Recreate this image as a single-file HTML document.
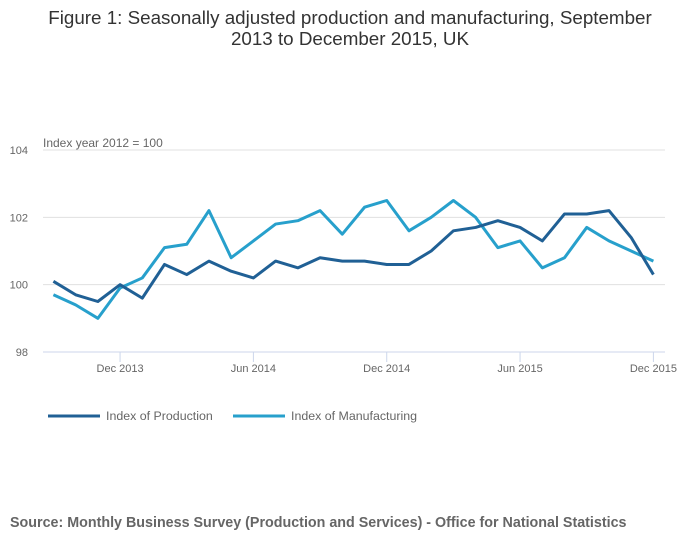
<!DOCTYPE html>
<html><head><meta charset="utf-8"><style>
body{margin:0;background:#fff;font-family:"Liberation Sans",sans-serif;}
</style></head><body>
<svg width="700" height="549" xmlns="http://www.w3.org/2000/svg" font-family="Liberation Sans, sans-serif">
<text x="350" y="24" text-anchor="middle" font-size="18.8" fill="#333">Figure 1: Seasonally adjusted production and manufacturing, September</text>
<text x="350" y="45" text-anchor="middle" font-size="18.8" fill="#333">2013 to December 2015, UK</text>
<text x="43" y="147" font-size="12" fill="#666">Index year 2012 = 100</text>
<g id="grid"></g><g id="series"></g>
<g>
<line x1="48" y1="416" x2="100" y2="416" stroke="#206095" stroke-width="3"/>
<text x="106" y="420" font-size="12.4" fill="#666">Index of Production</text>
<line x1="233" y1="416" x2="285" y2="416" stroke="#27a0cc" stroke-width="3"/>
<text x="291" y="420" font-size="12.4" fill="#666">Index of Manufacturing</text>
</g>
<text x="10" y="527" font-size="14.3" font-weight="bold" fill="#666">Source: Monthly Business Survey (Production and Services) - Office for National Statistics</text>
</svg>
<script>
const production=[100.1,99.7,99.5,100.0,99.6,100.6,100.3,100.7,100.4,100.2,100.7,100.5,100.8,100.7,100.7,100.6,100.6,101.0,101.6,101.7,101.9,101.7,101.3,102.1,102.1,102.2,101.4,100.3];
const manufacturing=[99.7,99.4,99.0,99.9,100.2,101.1,101.2,102.2,100.8,101.3,101.8,101.9,102.2,101.5,102.3,102.5,101.6,102.0,102.5,102.0,101.1,101.3,100.5,100.8,101.7,101.3,101.0,100.7];
const yTicks=[98,100,102,104];
const xTickLabels=["Dec 2013","Jun 2014","Dec 2014","Jun 2015","Dec 2015"];
const xTickIndex=[3,9,15,21,27];
const NS="http://www.w3.org/2000/svg";
const x=i=>53.4+i*(653.4-53.4)/27;
const y=v=>352-(v-98)*(202/6);
const grid=document.getElementById('grid'),ser=document.getElementById('series');
function mk(t,a,p){const e=document.createElementNS(NS,t);for(const k in a)e.setAttribute(k,a[k]);p.appendChild(e);return e;}
yTicks.forEach(v=>{
 if(v>98){const l=mk('line',{x1:43,x2:665,y1:y(v),y2:y(v),stroke:'#e0e0e0','stroke-width':1},grid);
 
 }
 const t=mk('text',{x:28,y:y(v)+4,'font-size':11,fill:'#666','text-anchor':'end'},grid);t.textContent=v;
 
 
});
const ax=mk('line',{x1:43,x2:665,y1:352,y2:352,stroke:'#ccd6eb','stroke-width':1},grid);


xTickIndex.forEach((idx,k)=>{
 mk('line',{x1:x(idx),x2:x(idx),y1:352,y2:362,stroke:'#ccd6eb'},grid);
 const t=mk('text',{x:x(idx),y:372,'font-size':11,fill:'#666','text-anchor':'middle'},grid);t.textContent=xTickLabels[k];
 
 
});
function line(d,c,name){const p=mk('polyline',{points:d.map((v,i)=>x(i)+','+y(v)).join(' '),fill:'none',stroke:c,'stroke-width':3,'stroke-linejoin':'round'},ser);
 
 }
line(manufacturing,'#27a0cc','manufacturing-line');
line(production,'#206095','production-line');
</script>
</body></html>
